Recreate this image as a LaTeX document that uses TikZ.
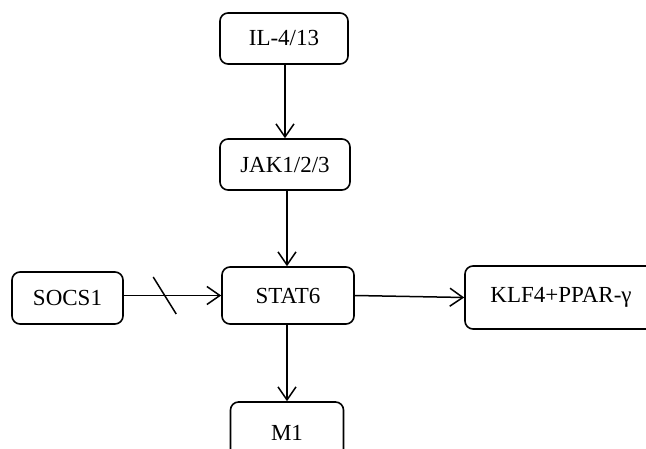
\documentclass[tikz,border=0pt]{standalone}
\usepackage{fontspec}
\setmainfont{Liberation Serif}
\usetikzlibrary{arrows.meta,calc}
\begin{document}
\begin{tikzpicture}[x=1pt,y=-1pt,
  box/.style={draw,line width=1.6pt,rounded corners=8pt,inner sep=0pt,font=\fontsize{23}{26}\selectfont},
  conn/.style={line width=1.5pt,-{Straight Barb[length=13pt,width=18pt,line width=1.5pt]}}]
\useasboundingbox (0,0) rectangle (646,449);
\clip (0,0) rectangle (646,449);
\node[box,minimum width=128pt,minimum height=51pt] (IL) at (284,38.5) {IL-4/13};
\node[box,minimum width=130pt,minimum height=51pt] (JAK) at (285,164.5) {JAK1/2/3};
\node[box,minimum width=132pt,minimum height=57pt] (STAT) at (288,295.5) {STAT6};
\node[box,minimum width=111pt,minimum height=52pt] (SOCS) at (67.5,298) {SOCS1};
\node[box,minimum width=192pt,minimum height=63pt] (KLF) at (561,297.5) {KLF4+PPAR-γ};
\node[box,minimum width=113pt,minimum height=62pt] (M1) at (287,433) {M1};
\draw[conn] (IL.south -| JAK.north) -- (JAK.north);
\draw[conn] (JAK.south -| 287,0) -- (STAT.north -| 287,0);
\draw[conn] (STAT.south -| M1.north) -- (M1.north);
\draw[conn] (SOCS.east |- STAT.west) -- coordinate[pos=0.42] (cut) (STAT.west);
\draw[line width=1.5pt] ($(cut)+(-11.5,-18.5)$) -- ($(cut)+(11.5,18.5)$);
\draw[conn] (STAT.east) -- (KLF.west);
\end{tikzpicture}
\end{document}
